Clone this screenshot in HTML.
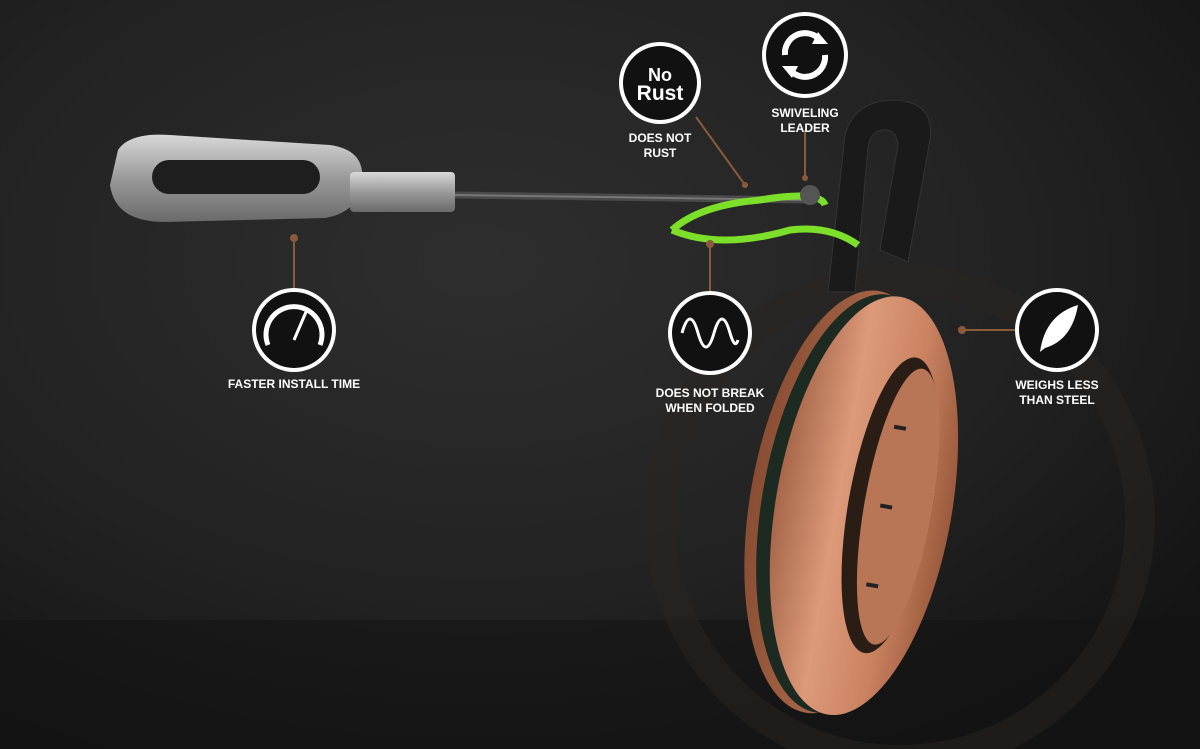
<!DOCTYPE html>
<html><head><meta charset="utf-8"><style>
html,body{margin:0;padding:0;width:1200px;height:749px;overflow:hidden;background:#1c1c1c}
.lbl{font-family:"Liberation Sans",sans-serif;font-weight:bold;fill:#fff;font-size:12px;text-anchor:middle}
</style></head><body>
<svg width="1200" height="749" viewBox="0 0 1200 749" xmlns="http://www.w3.org/2000/svg">
<defs>
<radialGradient id="bg" cx="0.4" cy="0.35" r="0.75">
<stop offset="0" stop-color="#2e2e2e"/><stop offset="0.6" stop-color="#222"/><stop offset="1" stop-color="#141414"/></radialGradient>
<linearGradient id="metal" x1="0" y1="0" x2="0" y2="1">
<stop offset="0" stop-color="#d8d8d8"/><stop offset="0.5" stop-color="#9a9a9a"/><stop offset="1" stop-color="#6a6a6a"/></linearGradient>
<linearGradient id="cu" x1="0" y1="0" x2="1" y2="0">
<stop offset="0" stop-color="#a8664a"/><stop offset="0.35" stop-color="#dc9a7a"/><stop offset="0.7" stop-color="#c98260"/><stop offset="1" stop-color="#9a5a3c"/></linearGradient>
<linearGradient id="cu2" x1="0" y1="0" x2="1" y2="0">
<stop offset="0" stop-color="#8a4e34"/><stop offset="1" stop-color="#c07a58"/></linearGradient>
</defs>
<rect width="1200" height="749" fill="url(#bg)"/>
<rect y="620" width="1200" height="129" fill="#111" opacity="0.5"/>
<circle cx="900" cy="520" r="240" fill="none" stroke="#2a2420" stroke-width="30" opacity="0.5"/>
<path d="M118 150 Q130 132 170 135 L330 145 Q365 150 362 180 Q360 212 325 218 L165 222 Q115 222 110 185 Z" fill="url(#metal)"/>
<rect x="152" y="160" width="168" height="34" rx="17" fill="#1e1e1e"/>
<rect x="350" y="172" width="105" height="40" rx="4" fill="url(#metal)"/>
<path d="M455 195 L810 200" stroke="#4a4a4a" stroke-width="7"/>
<path d="M455 195 L810 200" stroke="#777" stroke-width="2"/>
<g transform="rotate(10 860 505)">
<ellipse cx="842" cy="505" rx="92" ry="214" fill="url(#cu2)"/>
<ellipse cx="852" cy="505" rx="90" ry="212" fill="#1d2a22"/>
<ellipse cx="864" cy="505" rx="88" ry="212" fill="url(#cu)"/>
<ellipse cx="890" cy="500" rx="42" ry="150" fill="#2a1d16"/>
<ellipse cx="898" cy="500" rx="34" ry="140" fill="#b87656"/>
<rect x="880" y="420" width="12" height="4" fill="#222"/>
<rect x="880" y="500" width="12" height="4" fill="#222"/>
<rect x="880" y="580" width="12" height="4" fill="#222"/>
</g>
<path d="M828 292 L845 135 Q855 100 895 100 Q935 102 930 140 L908 262 L880 250 L898 145 Q896 128 882 130 Q870 132 868 148 L855 292 Z" fill="#1a1a1a" stroke="#333"/>
<path d="M672 230 Q700 205 760 200 Q820 190 825 205 M672 230 Q720 250 790 230 Q830 225 858 245" fill="none" stroke="#7ce02a" stroke-width="7"/>
<circle cx="810" cy="195" r="10" fill="#555"/>
<g stroke="#8a5a3a" stroke-width="2" fill="none">
<path d="M696 117 L745 185"/><path d="M805 130 L805 178"/>
<path d="M294 238 L294 288"/><path d="M710 244 L710 292"/><path d="M962 330 L1015 330"/>
</g>
<g fill="#8a5a3a"><circle cx="294" cy="238" r="4"/><circle cx="710" cy="244" r="4"/><circle cx="962" cy="330" r="4"/><circle cx="745" cy="185" r="3"/><circle cx="805" cy="178" r="3"/></g>
<g fill="#fff"><circle cx="660" cy="83" r="41"/><circle cx="805" cy="55" r="43"/><circle cx="294" cy="330" r="42"/><circle cx="710" cy="333" r="42"/><circle cx="1057" cy="330" r="42"/></g>
<g fill="#111"><circle cx="660" cy="83" r="37"/><circle cx="805" cy="55" r="39"/><circle cx="294" cy="330" r="38"/><circle cx="710" cy="333" r="38"/><circle cx="1057" cy="330" r="38"/></g>
<text x="660" y="81" class="lbl" style="font-size:18px">No</text>
<text x="660" y="100" class="lbl" style="font-size:21px">Rust</text>
<path d="M785 55 A20 20 0 0 1 820 40 M825 55 A20 20 0 0 1 790 70" fill="none" stroke="#fff" stroke-width="6"/>
<path d="M818 32 L828 44 L812 44Z M792 78 L782 66 L798 66Z" fill="#fff"/>
<path d="M268 345 A28 28 0 1 1 320 345" fill="none" stroke="#fff" stroke-width="5"/>
<path d="M294 340 L306 312" stroke="#fff" stroke-width="3"/>
<path d="M682 333 Q690 305 698 333 Q706 361 714 333 Q722 305 730 333 Q735 350 738 340" fill="none" stroke="#fff" stroke-width="3"/>
<path d="M1040 352 Q1045 315 1078 305 Q1072 340 1045 348 Z" fill="#fff"/>
<text x="660" y="142" class="lbl">DOES NOT</text><text x="660" y="157" class="lbl">RUST</text>
<text x="805" y="117" class="lbl">SWIVELING</text><text x="805" y="132" class="lbl">LEADER</text>
<text x="294" y="388" class="lbl">FASTER INSTALL TIME</text>
<text x="710" y="397" class="lbl">DOES NOT BREAK</text><text x="710" y="412" class="lbl">WHEN FOLDED</text>
<text x="1057" y="389" class="lbl">WEIGHS LESS</text><text x="1057" y="404" class="lbl">THAN STEEL</text>
</svg>
</body></html>
